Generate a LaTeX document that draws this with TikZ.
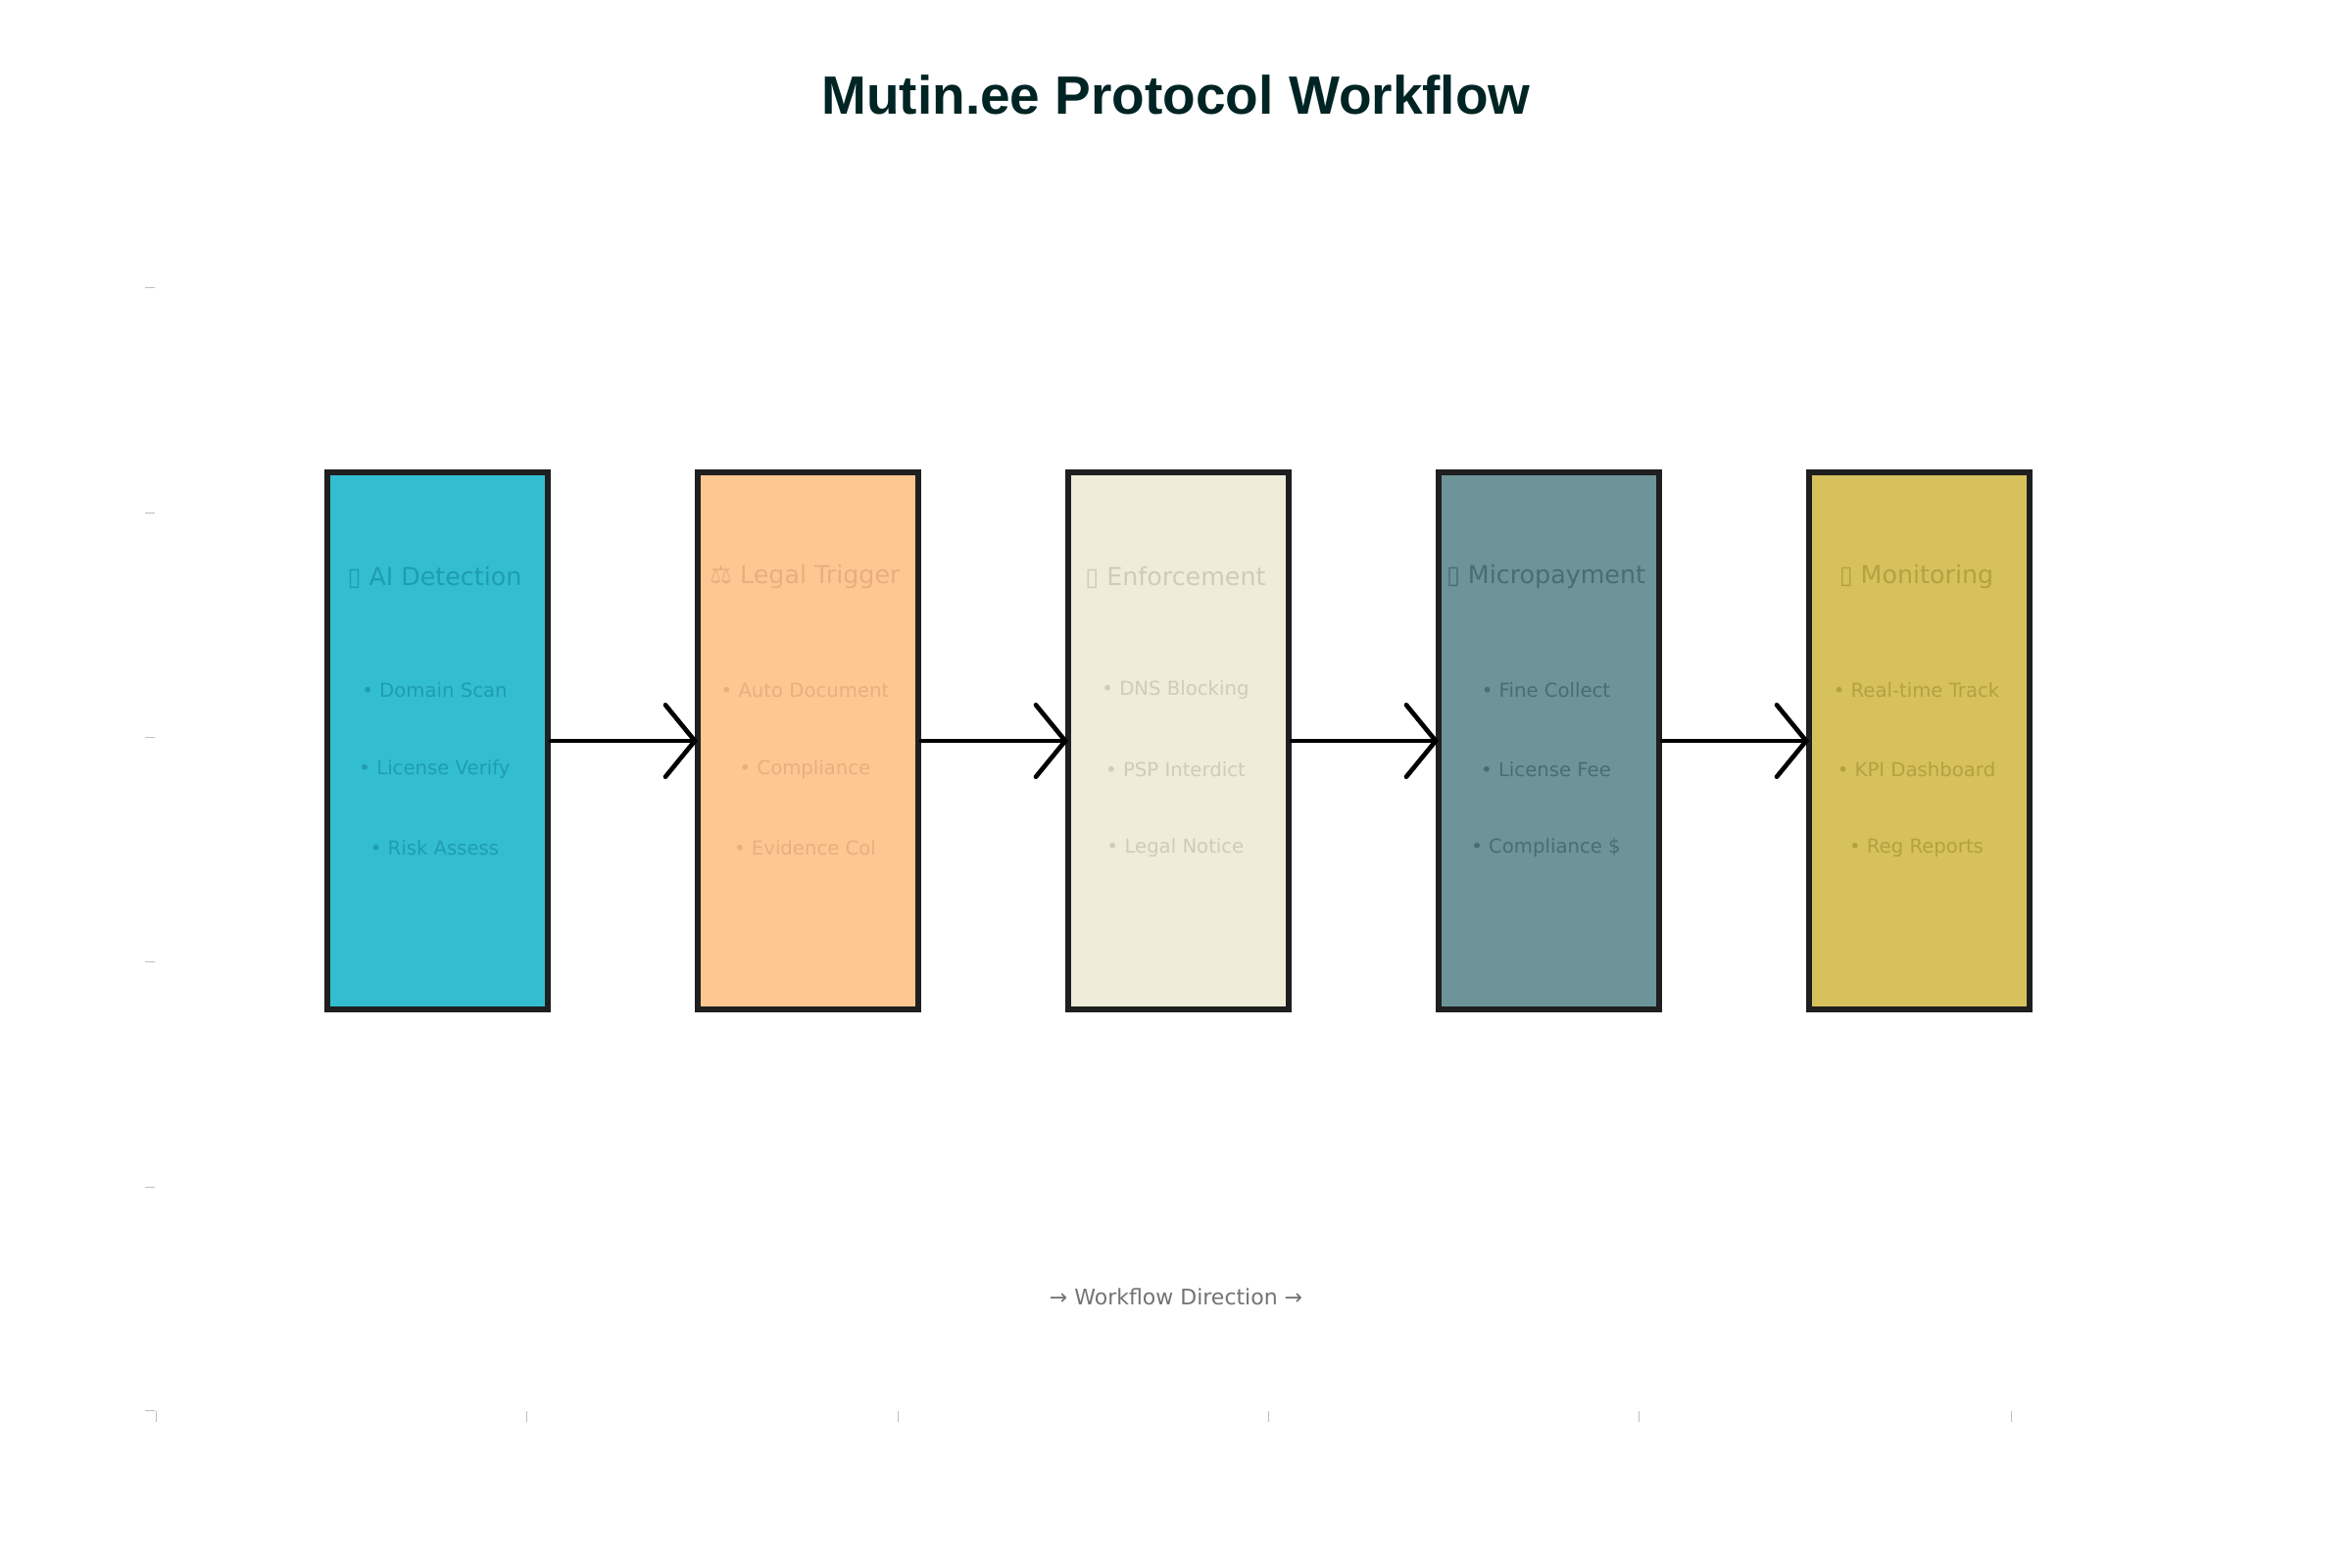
\documentclass[tikz,border=0pt]{standalone}
\usepackage{fontspec}
\setmainfont{DejaVu Sans}
\newfontfamily\titlefont{Liberation Sans}
\begin{document}
\begin{tikzpicture}[x=0.3pt,y=-0.3pt,
  stepbox/.style={draw=black!88,line width=1.8pt,minimum width=225*0.3pt,minimum height=548*0.3pt,anchor=north west,inner sep=0},
  hd/.style={font=\fontsize{7.6}{9}\selectfont},
  bl/.style={font=\fontsize{5.9}{7}\selectfont},
  flow/.style={line width=1.4pt,line cap=round},
  tk/.style={draw=black!25,line width=0.3pt}]
\useasboundingbox (0,0) rectangle (2400,1600);
\definecolor{c1}{HTML}{33BDD1}\definecolor{t1}{HTML}{1E9EAF}
\definecolor{c2}{HTML}{FEC792}\definecolor{t2}{HTML}{E8AE80}
\definecolor{c3}{HTML}{EFEDDA}\definecolor{t3}{HTML}{CFCDB9}
\definecolor{c4}{HTML}{6C9499}\definecolor{t4}{HTML}{466E73}
\definecolor{c5}{HTML}{D6C15D}\definecolor{t5}{HTML}{B4A13F}
\node[font=\titlefont\bfseries\fontsize{16.5}{19}\selectfont,text=black!30!teal!40!black] (title) at (1200,97) {Mutin.ee Protocol Workflow};
\foreach \i/\x/\h/\a/\b/\c in {
 1/331/\char"25AF\ AI Detection/Domain Scan/License Verify/Risk Assess,
 2/709/⚖ Legal Trigger/Auto Document/Compliance/Evidence Col,
 3/1087/\char"25AF\ Enforcement/DNS Blocking/PSP Interdict/Legal Notice,
 4/1465/\char"25AF\ Micropayment/Fine Collect/License Fee/Compliance \$,
 5/1843/\char"25AF\ Monitoring/Real-time Track/KPI Dashboard/Reg Reports}{
  \node[stepbox,fill=c\i] (b\i) at (\x,479) {};
  \node[hd,text=t\i] (h\i) at (\x+112.5,589) {\h};
  \node[bl,text=t\i] (p\i a) at (\x+112.5,704) {• \a};
  \node[bl,text=t\i] (p\i b) at (\x+112.5,785) {• \b};
  \node[bl,text=t\i] (p\i c) at (\x+112.5,865) {• \c};
}
\foreach \i/\j in {1/2,2/3,3/4,4/5}{
  \draw[flow] (b\i.east) -- (b\j.west);
  \draw[flow] ([xshift=-9pt,yshift=11pt]b\j.west) -- (b\j.west) -- ([xshift=-9pt,yshift=-11pt]b\j.west);
}
\node[bl,font=\fontsize{6.6}{8}\selectfont,text=black!55] (foot) at (1200,1323) {→ Workflow Direction →};
\foreach \y in {294,524,752,981,1211,1439} \draw[tk] (148,\y) -- (158,\y);
\foreach \x in {159,537,916,1294,1672,2052} \draw[tk] (\x,1440) -- (\x,1451);
\end{tikzpicture}
\end{document}
